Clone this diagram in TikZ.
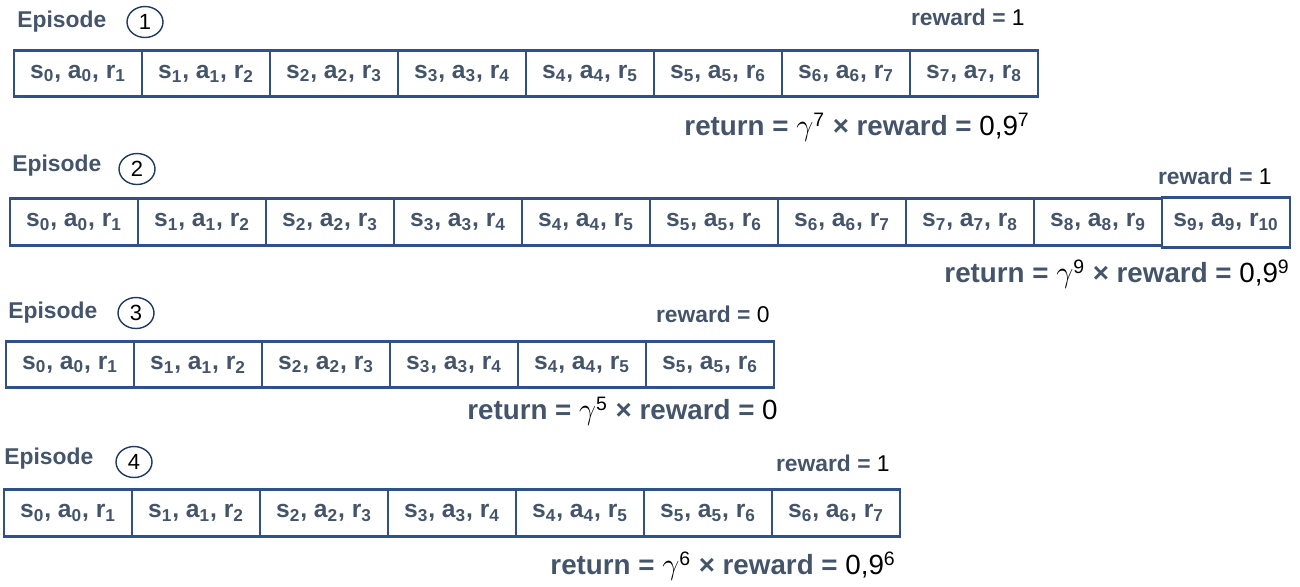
\documentclass[tikz,border=0pt]{standalone}
\usepackage{fontspec}
\setmainfont{Liberation Sans}
\usetikzlibrary{positioning,shapes.geometric}
\definecolor{slate}{HTML}{44546A}
\definecolor{boxblue}{HTML}{2F5089}
\definecolor{ring}{HTML}{1F3864}
\newcommand{\sar}[3]{s\textsubscript{#1}, a\textsubscript{#2}, r\textsubscript{#3}}
\newcommand{\retline}[2]{\textbf{return = }\textcolor{black}{\scalebox{1.2}{$\gamma$}\textsuperscript{#1}}\textbf{ × reward = }#2}

\begin{document}
\begin{tikzpicture}[x=0.02cm,y=-0.02cm,
  cell/.style={draw=boxblue,line width=1.6pt,minimum width=2.56cm,minimum height=0.93cm,inner sep=0pt,
    text=slate,font=\fontsize{14}{16}\selectfont\bfseries},
  eplabel/.style={anchor=west,inner sep=0pt,text=slate,font=\fontsize{13}{15}\selectfont\bfseries},
  epnum/.style={draw=ring,line width=0.8pt,ellipse,minimum width=0.72cm,minimum height=0.62cm,inner sep=0pt,
    font=\fontsize{12.5}{14}\selectfont},
  rewardlbl/.style={anchor=east,inner sep=0pt,text=slate,font=\fontsize{13}{15}\selectfont},
  returnlbl/.style={anchor=east,inner sep=0pt,text=slate,font=\fontsize{15.8}{18}\selectfont}]
\useasboundingbox (0,0) rectangle (1300,586);

% episode 1
\node[eplabel] (ep1) at (17,22) {Episode};
\node[epnum] (n1) at (145,22) {1};
\foreach \i [evaluate=\i as \j using int(\i+1)] in {0,...,7}
  \node[cell] (a\i) at ({14+128*\i+64},73.5) {\sar{\i}{\i}{\j}};
\node[rewardlbl] (rw1) at (1025,17) {\textbf{reward =} \textcolor{black}{1}};
\node[returnlbl] (rt1) at (1030,127) {\retline{7}{\textcolor{black}{0,9\textsuperscript{7}}}};

% episode 2
\node[eplabel] (ep2) at (12,166) {Episode};
\node[epnum] (n2) at (137,169) {2};
\foreach \i [evaluate=\i as \j using int(\i+1)] in {0,...,8}
  \node[cell] (b\i) at ({10+128*\i+64},222) {\sar{\i}{\i}{\j}};
\node[cell,minimum height=1.0cm] (b9) at (1226,222.5) {\raisebox{2.5pt}{\sar{9}{9}{10}}};
\node[rewardlbl] (rw2) at (1272,176) {\textbf{reward =} \textcolor{black}{1}};
\node[returnlbl] (rt2) at (1290,274) {\retline{9}{\textcolor{black}{0,9\textsuperscript{9}}}};

% episode 3
\node[eplabel] (ep3) at (8,313) {Episode};
\node[epnum] (n3) at (136,313) {3};
\foreach \i [evaluate=\i as \j using int(\i+1)] in {0,...,5}
  \node[cell] (c\i) at ({6+128*\i+64},364.5) {\sar{\i}{\i}{\j}};
\node[rewardlbl] (rw3) at (770,314) {\textbf{reward =} \textcolor{black}{0}};
\node[returnlbl] (rt3) at (778,411) {\retline{5}{\textcolor{black}{0}}};

% episode 4
\node[eplabel] (ep4) at (4,459) {Episode};
\node[epnum] (n4) at (134,462) {4};
\foreach \i [evaluate=\i as \j using int(\i+1)] in {0,...,6}
  \node[cell] (d\i) at ({4+128*\i+64},513) {\sar{\i}{\i}{\j}};
\node[rewardlbl] (rw4) at (890,463) {\textbf{reward =} \textcolor{black}{1}};
\node[returnlbl] (rt4) at (896,566) {\retline{6}{\textcolor{black}{0,9\textsuperscript{6}}}};
\end{tikzpicture}
\end{document}
